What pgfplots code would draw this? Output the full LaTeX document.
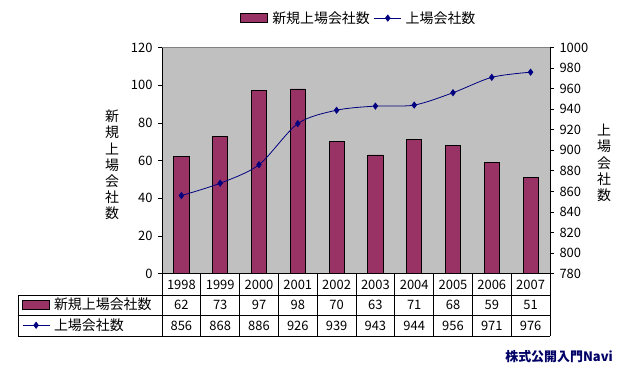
\documentclass[border=0pt]{standalone}
\usepackage{fontspec}
\setmainfont{Noto Sans CJK JP}
\usepackage{pgfplots}
\usepackage{pgfplotstable}
\pgfplotsset{compat=1.18}
\definecolor{barc}{HTML}{993366}
\definecolor{linec}{HTML}{000080}
\definecolor{plotbg}{HTML}{C0C0C0}
\definecolor{framec}{HTML}{808080}
\definecolor{logoc}{HTML}{000066}

\pgfplotstableread{
x bar line
0 62 856
1 73 868
2 97 886
3 98 926
4 70 939
5 63 943
6 71 944
7 68 956
8 59 971
9 51 976
}\data

\pgfplotsset{
  mybarlegend/.style={legend image code/.code={\draw[##1] (0bp,-4.5bp) rectangle (27bp,4.5bp);}},
  mylinelegend/.style={legend image code/.code={\draw[mark repeat=2,mark phase=2,##1] plot coordinates {(0bp,0bp)(13.5bp,0bp)(27bp,0bp)};}},
  common/.style={
    scale only axis, width=388bp, height=226.2bp,
    at={(162bp,-273.7bp)}, anchor=south west,
    xmin=-0.5, xmax=9.5, xtick=\empty,
    tick align=outside, major tick length=4bp,
    tick style={black, line width=0.8bp},
    /pgf/number format/assume math mode=true,
    /pgf/number format/1000 sep={},
    ticklabel style={font=\fontsize{13}{14}\selectfont},
    axis line style={draw=none},
    clip=false,
  },
}

\begin{document}
\begin{tikzpicture}
\fill[white] (0,0) rectangle (618bp,-370bp);
\begin{axis}[common,
  ymin=0, ymax=120, ytick={0,20,...,120},
  axis y line*=left,
  yticklabel style={xshift=-2bp},
  axis background/.style={fill=plotbg},
  legend style={at={(rel axis cs:-0.3608,-0.1826)}, anchor=west, draw=none, fill=none,
    inner sep=0pt, row sep=0pt, font=\fontsize{14}{15}\selectfont,
    nodes={minimum height=20.5bp, inner sep=0pt, anchor=west},
    /tikz/every odd column/.append style={column sep=4bp}},
  legend cell align=left,
]
\addplot[ybar, bar width=0.39, fill=barc, draw=black, line width=0.8bp, forget plot] table[x=x,y=bar]{\data};
\addlegendimage{mybarlegend, fill=barc, draw=black, line width=0.8bp}
\addlegendentry{新規上場会社数}
\addlegendimage{mylinelegend, linec, line width=0.8bp, mark=diamond*, mark size=3bp}
\addlegendentry{上場会社数}
\end{axis}
\begin{axis}[common,
  ymin=780, ymax=1000, ytick={780,800,...,1000},
  axis y line*=right, axis x line=none,
  yticklabel style={anchor=west, xshift=2bp},
  legend columns=2,
  legend style={at={(rel axis cs:0.505,1.13)}, anchor=center, draw=none, fill=none,
    inner sep=0pt, font=\fontsize{14}{15}\selectfont,
    nodes={inner sep=0pt, anchor=west},
    /tikz/every odd column/.append style={column sep=4bp},
    /tikz/every even column/.append style={column sep=4bp}},
]
\addlegendimage{mybarlegend, fill=barc, draw=black, line width=0.8bp}
\addlegendentry{新規上場会社数}
\addplot[linec, line width=0.8bp, smooth, tension=0.5, mark=diamond*, mark size=3bp, mark options={solid}, mylinelegend] table[x=x,y=line]{\data};
\addlegendentry{上場会社数}
\end{axis}
\begin{scope}[x=1bp,y=-1bp]
  % plot frame
  \draw[framec, line width=0.8bp] (162,47.5) -- (550,47.5);
  \draw[black, line width=0.8bp] (162,47.5) -- (162,336);
  \draw[black, line width=0.8bp] (550,47.5) -- (550,336);
  \draw[black, line width=0.8bp] (162,273.7) -- (550,273.7);
  % table grid
  \draw[black, line width=0.8bp] (18,295) -- (550,295);
  \draw[black, line width=0.8bp] (18,315.5) -- (550,315.5);
  \draw[black, line width=0.8bp] (18,336) -- (550,336);
  \draw[black, line width=0.8bp] (18,295) -- (18,336);
  \foreach \k in {1,...,9} {
    \draw[black, line width=0.8bp] ({162+38.8*\k},273.7) -- ({162+38.8*\k},336);
  }
  % years
  \foreach \y [count=\i from 0] in {1998,1999,2000,2001,2002,2003,2004,2005,2006,2007} {
    \node[font=\fontsize{13}{14}\selectfont, inner sep=0pt] at ({162+38.8*(\i+0.5)},284.5) {\y};
  }
  % table values
  \foreach \i in {0,...,9} {
    \pgfplotstablegetelem{\i}{bar}\of\data
    \node[font=\fontsize{13}{14}\selectfont, inner sep=0pt] at ({162+38.8*(\i+0.5)},305.2) {\pgfplotsretval};
    \pgfplotstablegetelem{\i}{line}\of\data
    \node[font=\fontsize{13}{14}\selectfont, inner sep=0pt] at ({162+38.8*(\i+0.5)},325.7) {\pgfplotsretval};
  }
  % axis titles
  \node[font=\fontsize{14}{16.3}\selectfont, align=center, inner sep=0pt] at (112,165) {新\\規\\上\\場\\会\\社\\数};
  \node[font=\fontsize{14}{16.3}\selectfont, align=center, inner sep=0pt] at (604,163) {上\\場\\会\\社\\数};
  % logo
  \node[anchor=east, font=\bfseries\fontsize{13}{14}\selectfont, text=logoc, inner sep=0pt] at (613,357) {株式公開入門Navi};
\end{scope}
\end{tikzpicture}
\end{document}
